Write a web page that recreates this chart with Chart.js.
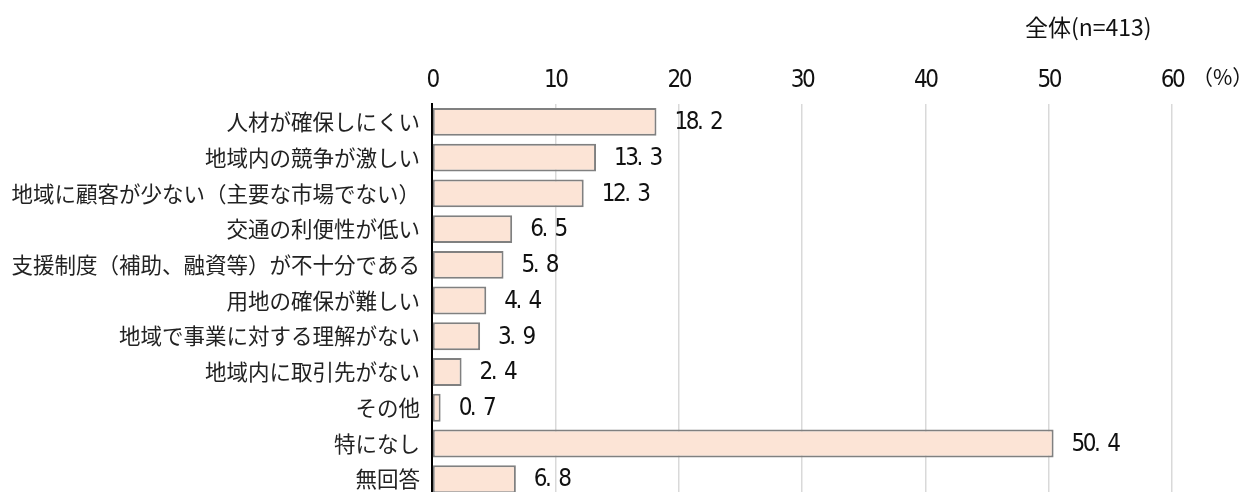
<!DOCTYPE html>
<html>
<head>
<meta charset="utf-8">
<script src="https://cdn.jsdelivr.net/npm/chart.js@4.4.1/dist/chart.umd.min.js"></script>
<style>
html,body{margin:0;padding:0;background:#fff;overflow:hidden;}
canvas{display:block;}
</style>
</head>
<body>
<canvas id="c" width="1246" height="514" style="width:1246px;height:514px;"></canvas>
<script>
const categories = ["人材が確保しにくい","地域内の競争が激しい","地域に顧客が少ない（主要な市場でない）","交通の利便性が低い","支援制度（補助、融資等）が不十分である","用地の確保が難しい","地域で事業に対する理解がない","地域内に取引先がない","その他","特になし","無回答"];
const values = [18.2,13.3,12.3,6.5,5.8,4.4,3.9,2.4,0.7,50.4,6.8];
const tickValues = [0,10,20,30,40,50,60];
const titleText = "全体(n=413)";
const unitText = "（%）";

const NUMFONT = "'DejaVu Sans Condensed','DejaVu Sans',sans-serif";
const JPFONT = "'Noto Sans CJK JP',sans-serif";
const NUM_SPACING = '-2.5px';

const labelPlugin = {
  id: 'labels',
  afterLayout(chart) {
    const sx = chart.scales.x;
    if (!sx._patched) {
      const orig = sx.drawLabels;
      sx.drawLabels = function(ca) {
        const ctx = this.ctx;
        ctx.save();
        ctx.letterSpacing = NUM_SPACING;
        orig.call(this, ca);
        ctx.restore();
      };
      sx._patched = true;
    }
  },
  afterDatasetsDraw(chart) {
    const ctx = chart.ctx;
    const meta = chart.getDatasetMeta(0);
    ctx.save();
    ctx.fillStyle = '#111';
    ctx.font = "24px " + NUMFONT;
    ctx.letterSpacing = NUM_SPACING;
    ctx.textAlign = 'left';
    ctx.textBaseline = 'middle';
    meta.data.forEach((bar, i) => {
      const s = values[i].toFixed(1).replace('.', '.  ');
      ctx.fillText(s, bar.x + 18, bar.y + 1);
    });
    ctx.letterSpacing = '0px';
    ctx.font = "23px " + JPFONT;
    ctx.textAlign = 'left';
    ctx.textBaseline = 'middle';
    ctx.fillText(titleText, 1025, 27);
    ctx.font = "21px " + JPFONT;
    ctx.fillText(unitText, chart.chartArea.right + 20, 77);
    ctx.restore();
  }
};

new Chart(document.getElementById('c'), {
  type: 'bar',
  data: {
    labels: categories,
    datasets: [{
      data: values,
      backgroundColor: '#FCE4D6',
      borderColor: '#808080',
      borderWidth: 2,
      borderSkipped: false,
      categoryPercentage: 1,
      barPercentage: 0.78
    }]
  },
  options: {
    indexAxis: 'y',
    responsive: false,
    maintainAspectRatio: false,
    animation: false,
    devicePixelRatio: 1,
    layout: { padding: { left: 0, right: 74, top: 0, bottom: 3 } },
    plugins: { legend: { display: false }, tooltip: { enabled: false } },
    scales: {
      x: {
        position: 'top',
        min: 0, max: 60,
        afterBuildTicks: s => { s.ticks = tickValues.map(v => ({ value: v })); },
        afterFit: s => { s.height = 104; },
        grid: { color: '#D9D9D9', lineWidth: 1.5, drawTicks: false },
        border: { display: false },
        ticks: { font: { family: NUMFONT, size: 24 }, color: '#111', padding: 9, maxRotation: 0 }
      },
      y: {
        afterFit: s => { s.width = 432; },
        grid: { display: false },
        border: { display: true, color: '#000', width: 2 },
        ticks: { font: { family: JPFONT, size: 21.5 }, color: '#222', padding: 4 }
      }
    }
  },
  plugins: [labelPlugin]
});
</script>
</body>
</html>
